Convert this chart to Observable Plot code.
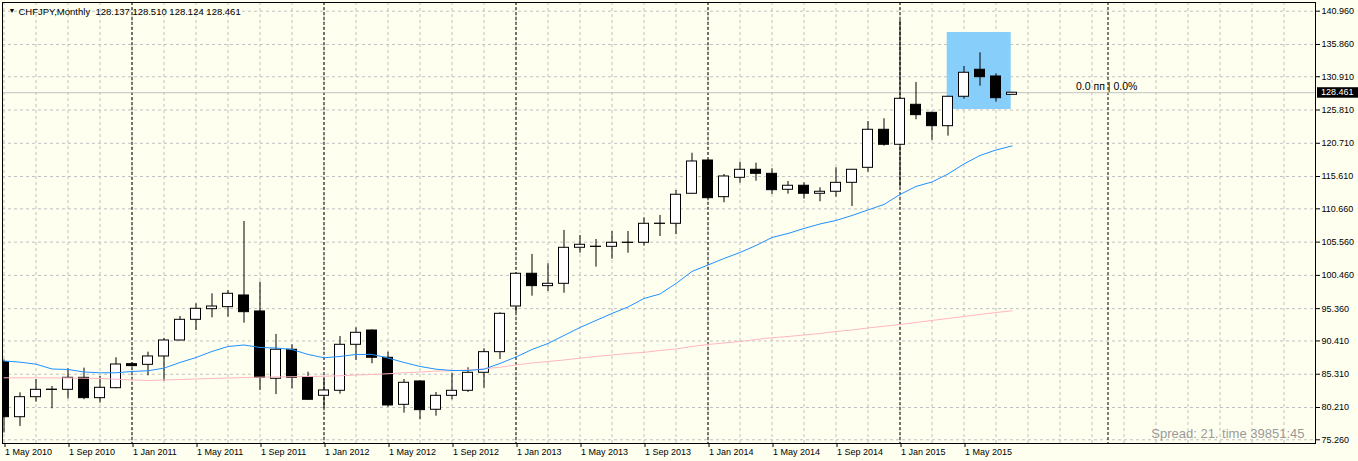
<!DOCTYPE html>
<html><head><meta charset="utf-8">
<script src="https://cdn.jsdelivr.net/npm/d3@7"></script>
<script src="https://cdn.jsdelivr.net/npm/@observablehq/plot@0.6"></script>
<style>
html,body{margin:0;padding:0;background:#fffff0;}
#chart{width:1358px;height:461px;overflow:hidden;}
</style></head>
<body><div id="chart"></div>
<script>
// Monthly CHFJPY candles, May 2010 (index 0) .. Aug 2015 (index 63)
const open = [87.16,78.72,81.79,82.95,82.92,84.76,81.64,83.17,86.85,86.75,
  88.03,90.48,93.65,95.28,95.59,97.38,94.93,84.61,89.06,84.85,
  82.00,82.77,89.82,92.01,87.83,80.62,84.20,79.86,82.00,82.77,
  85.53,88.69,95.69,100.71,98.81,99.17,104.69,104.86,104.84,105.48,
  105.46,108.35,108.37,112.97,118.07,112.45,115.42,116.65,116.03,113.58,
  114.20,112.97,113.28,114.65,116.95,122.78,120.48,126.61,125.38,123.33,
  127.84,131.98,130.95,128.137];
const high = [87.5,82.46,84.50,83.43,86.14,86.24,84.96,87.83,87.0,88.69,
  90.8,94.16,96.11,97.64,98.15,108.72,99.42,91.40,89.82,85.62,
  84.61,91.09,92.43,92.10,88.69,84.50,84.30,82.51,85.47,86.29,
  89.21,94.73,100.80,103.66,102.24,107.34,106.57,105.96,107.18,107.18,
  109.29,109.65,113.47,119.19,118.10,115.93,117.81,117.66,116.80,114.85,
  114.65,113.89,116.95,116.70,124.05,124.47,139.5,130.03,125.45,127.90,
  132.48,134.58,131.36,128.510];
const low = [76.3,77.30,81.02,80.01,81.54,81.39,80.87,83.08,86.4,85.07,
  84.24,90.40,92.01,93.96,94.05,93.13,82.82,82.20,83.08,81.30,
  80.01,82.25,87.41,86.91,80.26,79.34,78.33,78.88,81.39,82.51,
  83.17,87.57,94.70,97.27,98.00,97.73,103.86,101.72,102.94,103.86,
  104.94,106.42,106.69,112.90,112.20,111.59,114.60,114.90,112.86,112.91,
  112.14,111.74,112.45,111.02,116.28,120.27,113.98,124.31,121.14,121.80,
  127.47,129.46,127.01,128.124];
const close = [78.72,81.79,82.92,82.90,84.76,81.64,83.23,86.80,86.55,88.03,
  90.48,93.65,95.34,95.69,97.64,94.82,84.76,89.06,84.76,81.39,
  82.82,89.82,91.66,87.83,80.52,84.00,79.80,82.00,82.77,85.53,
  88.69,94.57,100.71,98.81,99.17,104.69,105.15,104.82,105.46,105.44,
  108.37,108.39,112.82,117.92,112.29,115.62,116.65,116.03,113.52,114.20,
  112.97,113.28,114.65,116.65,122.78,120.48,127.53,125.02,123.33,127.84,
  131.52,130.84,127.62,128.461];
// moving averages (blue = fast, pink = slow)
const maFast = [87.34,87.16,86.85,86.11,86.04,85.65,85.53,85.53,85.73,85.84,
  86.24,87.11,87.87,88.80,89.56,89.79,89.41,89.33,89.10,88.34,
  87.83,88.03,88.34,88.34,87.80,87.11,86.50,86.08,85.88,85.88,
  86.08,86.96,87.95,89.10,90.02,91.25,92.47,93.55,94.62,95.62,
  96.92,97.61,99.22,101.06,102.05,103.05,103.97,105.04,106.27,106.88,
  107.65,108.34,108.88,109.64,110.49,111.33,112.86,114.09,114.78,116.00,
  117.54,118.84,119.68,120.30];
const maSlow = [84.76,84.76,84.76,84.75,84.73,84.70,84.66,84.55,84.43,84.35,
  84.43,84.50,84.58,84.66,84.73,84.81,84.86,84.89,84.92,84.96,
  85.01,85.07,85.19,85.27,85.38,85.53,85.65,85.78,85.84,85.96,
  86.14,86.39,86.73,87.03,87.26,87.49,87.77,88.03,88.26,88.49,
  88.67,88.95,89.18,89.56,89.87,90.10,90.33,90.63,90.90,91.09,
  91.32,91.55,91.86,92.09,92.40,92.67,92.93,93.24,93.55,93.85,
  94.16,94.47,94.77,95.03];
const xTickIdx = [0,4,8,12,16,20,24,28,32,36,40,44,48,52,56,60];
const xTickLabels = ["1 May 2010","1 Sep 2010","1 Jan 2011","1 May 2011","1 Sep 2011","1 Jan 2012",
  "1 May 2012","1 Sep 2012","1 Jan 2013","1 May 2013","1 Sep 2013","1 Jan 2014",
  "1 May 2014","1 Sep 2014","1 Jan 2015","1 May 2015"];
const yTicks = [140.960,135.860,130.910,125.810,120.710,115.610,110.660,105.560,100.460,95.360,90.410,85.310,80.210,75.260];
const separatorIdx = [8,20,32,44,56,69];
const symbol = "CHFJPY,Monthly";
const lastPrice = 128.461;
const highlight = [{from:58.95, to:62.95, lo:125.89, hi:137.69}];
const spreadText = "Spread: 21. time 39851:45";
const profitText = "0.0 пп | 0.0%";

const candles = open.map((o,i)=>({i, o, h:high[i], l:low[i], c:close[i]}));
const up = candles.filter(d=>d.c>=d.o);
const down = candles.filter(d=>d.c<d.o);
const fastPts = maFast.map((v,i)=>({i,v}));
const slowPts = maSlow.map((v,i)=>({i,v}));
const vGrid = d3.range(0, 82, 2);
const half = 0.3125;
const font = "Liberation Sans, Arial, sans-serif";
const title = `${symbol}\u00a0\u00a0${open[63].toFixed(3)} ${high[63].toFixed(3)} ${low[63].toFixed(3)} ${close[63].toFixed(3)}`;

const chart = Plot.plot({
  width:1358, height:461,
  marginLeft:2, marginRight:43, marginTop:2, marginBottom:18,
  style:{background:"#fffff0", fontFamily:font, fontSize:"9px", color:"black", overflow:"visible"},
  x:{type:"linear", domain:[-0.09375, 81.96875]},
  y:{domain:[74.69, 142.29]},
  marks:[
    Plot.ruleY(yTicks, {stroke:"#c0c0c0", strokeDasharray:"3,3"}),
    Plot.ruleX(vGrid, {stroke:"#c0c0c0", strokeDasharray:"3,3"}),
    Plot.ruleX(separatorIdx, {stroke:"black", strokeDasharray:"3,2"}),
    Plot.ruleY([lastPrice], {stroke:"#c0c0c0"}),
    Plot.rect(highlight, {x1:"from", x2:"to", y1:"lo", y2:"hi", fill:"#87cefa"}),
    Plot.ruleX(candles, {x:"i", y1:"l", y2:"h", stroke:"black", clip:true}),
    Plot.rect(up, {x1:d=>d.i-half, x2:d=>d.i+half, y1:"o", y2:"c", fill:"white", stroke:"black", clip:true}),
    Plot.rect(down, {x1:d=>d.i-half, x2:d=>d.i+half, y1:"o", y2:"c", fill:"black", stroke:"black", clip:true}),
    Plot.line(slowPts, {x:"i", y:"v", stroke:"#ffb6c1", strokeWidth:1}),
    Plot.line(fastPts, {x:"i", y:"v", stroke:"#1e90ff", strokeWidth:1}),
    Plot.frame({stroke:"black"}),
    Plot.axisY({anchor:"right", ticks:yTicks, tickFormat:d=>d.toFixed(3), tickSize:4, tickPadding:2, fontSize:9, fill:"black"}),
    Plot.axisX({anchor:"bottom", ticks:xTickIdx, tickFormat:(d)=>xTickLabels[xTickIdx.indexOf(d)], tickSize:4, tickPadding:1, textAnchor:"start", dx:1, fontSize:9, fill:"black"}),
    Plot.text(["\u25bc"], {frameAnchor:"top-left", dx:6, dy:8, fontSize:7, textAnchor:"start", lineAnchor:"middle", fill:"black"}),
    Plot.text([title], {frameAnchor:"top-left", dx:16, dy:9, fontSize:9.5, textAnchor:"start", lineAnchor:"middle", fill:"black"}),
    Plot.text([profitText], {x:()=>67, y:()=>lastPrice, dy:-6, fontSize:10.5, textAnchor:"start", lineAnchor:"middle", fill:"black"}),
    Plot.text([spreadText], {frameAnchor:"bottom-right", dx:-11, dy:-10, fontSize:13, textAnchor:"end", lineAnchor:"middle", fill:"#9a9a9a"})
  ]
});
document.getElementById("chart").appendChild(chart);

// current price label on the right axis
const ys = chart.scale("y");
const py = ys.apply(lastPrice);
const svg = d3.select(chart);
const g = svg.append("g");
g.append("rect").attr("x",1317).attr("y",py-5).attr("width",41).attr("height",10.5).attr("fill","black");
g.append("text").attr("x",1321).attr("y",py).attr("dy","0.32em").attr("fill","white")
  .attr("text-anchor","start").attr("font-size",9).attr("font-family",font).text(lastPrice.toFixed(3));
</script>
</body></html>
